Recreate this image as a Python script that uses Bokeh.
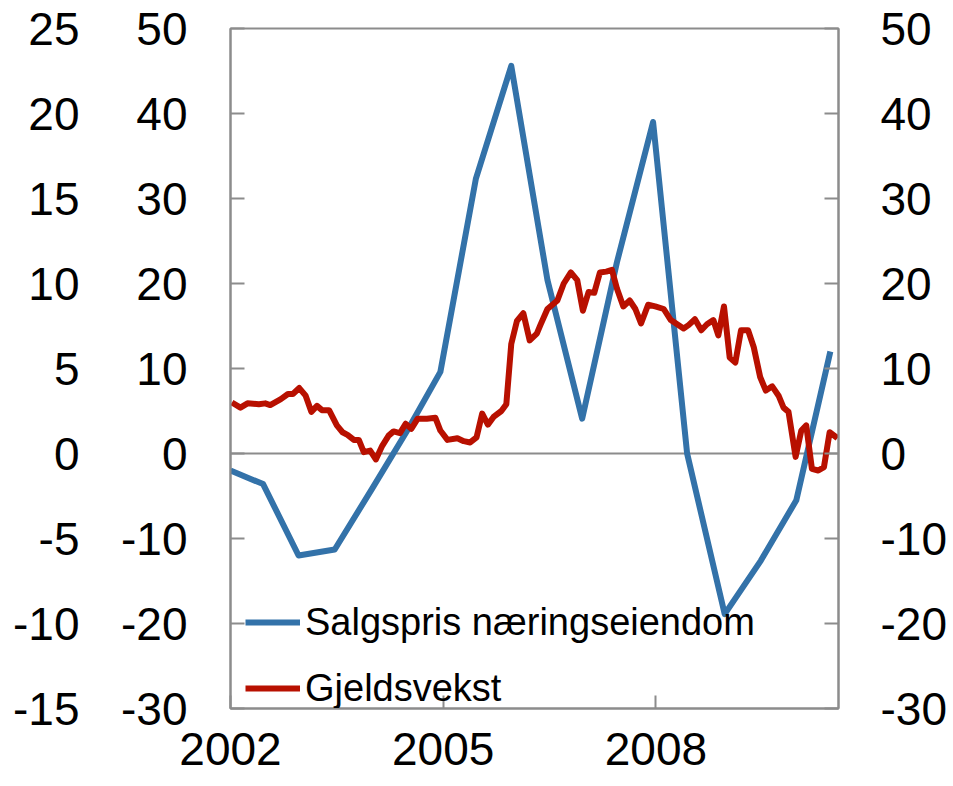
from bokeh.plotting import figure
from bokeh.models import (Range1d, LinearAxis, FixedTicker, Span, Legend, LegendItem)
from bokeh.embed import file_html
from bokeh.resources import INLINE

# ---- data ----
sal_x = [2002.0, 2002.46, 2002.96, 2003.47, 2004.0, 2004.5, 2004.96, 2005.46, 2005.96,
         2006.47, 2006.96, 2007.45, 2007.96, 2008.44, 2008.97, 2009.48, 2009.98, 2010.46]
sal_y = [-2.0, -3.6, -12.0, -11.3, -4.1, 2.8, 9.6, 32.3, 45.6,
         20.4, 4.1, 22.5, 39.0, 0.0, -18.9, -12.6, -5.5, 12.0]

gjeld_x = [2002.02, 2002.14, 2002.24, 2002.40, 2002.49, 2002.56, 2002.71, 2002.81, 2002.88, 2002.97,
           2003.06, 2003.14, 2003.22, 2003.29, 2003.39, 2003.50, 2003.58, 2003.65, 2003.74, 2003.81,
           2003.88, 2003.97, 2004.05, 2004.14, 2004.23, 2004.30, 2004.39, 2004.47, 2004.55, 2004.64,
           2004.77, 2004.89, 2004.96, 2005.06, 2005.20, 2005.29, 2005.38, 2005.47, 2005.55, 2005.63,
           2005.71, 2005.82, 2005.89, 2005.96, 2006.04, 2006.13, 2006.22, 2006.32, 2006.37, 2006.47,
           2006.61, 2006.70, 2006.80, 2006.89, 2006.97, 2007.05, 2007.13, 2007.21, 2007.30, 2007.38,
           2007.45, 2007.54, 2007.63, 2007.71, 2007.79, 2007.89, 2007.99, 2008.11, 2008.21, 2008.30,
           2008.39, 2008.46, 2008.55, 2008.64, 2008.72, 2008.81, 2008.88, 2008.96, 2009.04, 2009.12,
           2009.20, 2009.30, 2009.38, 2009.47, 2009.55, 2009.64, 2009.73, 2009.80, 2009.87, 2009.97,
           2010.05, 2010.12, 2010.20, 2010.29, 2010.37, 2010.45, 2010.56]
gjeld_y = [6.0, 5.4, 5.9, 5.8, 5.9, 5.7, 6.4, 7.0, 7.0, 7.7,
           6.8, 4.9, 5.6, 5.1, 5.1, 3.3, 2.5, 2.2, 1.6, 1.6,
           0.15, 0.35, -0.7, 0.9, 2.1, 2.6, 2.4, 3.5, 2.9, 4.1,
           4.1, 4.2, 2.7, 1.6, 1.8, 1.45, 1.3, 1.9, 4.7, 3.4,
           4.3, 5.0, 5.8, 12.9, 15.6, 16.5, 13.3, 14.1, 15.1, 17.0,
           18.0, 20.0, 21.3, 20.4, 16.8, 19.0, 18.9, 21.3, 21.4, 21.6,
           19.4, 17.3, 18.0, 17.0, 15.3, 17.5, 17.3, 17.0, 15.7, 15.2,
           14.7, 15.1, 15.8, 14.5, 15.2, 15.7, 13.9, 17.3, 11.3, 10.7,
           14.5, 14.5, 12.5, 9.0, 7.4, 7.9, 6.8, 5.4, 4.9, -0.4,
           2.7, 3.3, -1.8, -2.0, -1.6, 2.5, 1.8]

x_ticks = [2002, 2005, 2008]
x_tick_labels = ["2002", "2005", "2008"]
y_ticks = [-30, -20, -10, 0, 10, 20, 30, 40, 50]
y_tick_labels = ["-30", "-20", "-10", "0", "10", "20", "30", "40", "50"]
y_outer_ticks = [-15, -10, -5, 0, 5, 10, 15, 20, 25]
y_outer_labels = ["-15", "-10", "-5", "0", "5", "10", "15", "20", "25"]

series_names = ["Salgspris næringseiendom", "Gjeldsvekst"]

# ---- style ----
BLUE = "#3372A9"
RED = "#B81000"
GREY = "#8C8C8C"
FONT = "Liberation Sans"
TICK_SIZE = "46px"

p = figure(frame_width=608, frame_height=680, output_backend="svg", toolbar_location=None,
           x_range=Range1d(2002.0, 2010.575), y_range=Range1d(-30, 50),
           min_border_left=230, min_border_top=28, min_border_right=107, min_border_bottom=78)
p.extra_y_ranges = {"outer": Range1d(-15, 25), "right": Range1d(-30, 50)}
p.grid.visible = False
p.background_fill_color = "white"
p.border_fill_color = "white"
p.outline_line_color = GREY
p.outline_line_width = 2

# x axis
xa = p.xaxis[0]
xa.ticker = FixedTicker(ticks=x_ticks)
xa.major_label_overrides = dict(zip(x_ticks, x_tick_labels))
xa.minor_tick_line_color = None
xa.major_tick_in = 13
xa.major_tick_out = 0
xa.major_tick_line_color = GREY
xa.major_tick_line_width = 2
xa.axis_line_color = GREY
xa.axis_line_width = 2
xa.major_label_standoff = 24
xa.major_label_text_font = FONT
xa.major_label_text_font_size = TICK_SIZE
xa.major_label_text_color = "black"

def style_y(ax, ticks, labels, standoff, line=True):
    ax.ticker = FixedTicker(ticks=ticks)
    ax.major_label_overrides = dict(zip(ticks, labels))
    ax.minor_tick_line_color = None
    ax.major_label_standoff = standoff
    ax.major_label_text_font = FONT
    ax.major_label_text_font_size = TICK_SIZE
    ax.major_label_text_color = "black"
    if line:
        ax.major_tick_in = 14
        ax.major_tick_out = 0
        ax.major_tick_line_color = GREY
        ax.major_tick_line_width = 2
        ax.axis_line_color = GREY
        ax.axis_line_width = 2
    else:
        ax.major_tick_line_color = None
        ax.major_tick_in = 0
        ax.major_tick_out = 0
        ax.axis_line_color = None

style_y(p.yaxis[0], y_ticks, y_tick_labels, 43)

outer = LinearAxis(y_range_name="outer")
style_y(outer, y_outer_ticks, y_outer_labels, 39, line=False)
p.add_layout(outer, "left")

right = LinearAxis(y_range_name="right")
style_y(right, y_ticks, y_tick_labels, 42)
p.add_layout(right, "right")

# zero line
p.add_layout(Span(location=0, dimension="width", line_color=GREY, line_width=2, level="underlay"))

r_sal = p.line(sal_x, sal_y, line_color=BLUE, line_width=6, line_join="round")
r_gj = p.line(gjeld_x, gjeld_y, line_color=RED, line_width=6, line_join="round")

legend = Legend(items=[LegendItem(label=series_names[0], renderers=[r_sal]),
                       LegendItem(label=series_names[1], renderers=[r_gj])],
                location=(15, -2), orientation="vertical",
                background_fill_alpha=0, border_line_color=None,
                padding=0, margin=0, spacing=22,
                glyph_width=55, glyph_height=44, label_height=44, label_standoff=5,
                label_text_font=FONT, label_text_font_size="38px", label_text_color="black")
p.add_layout(legend, "center")

open("out.html", "w").write(file_html(p, INLINE))
